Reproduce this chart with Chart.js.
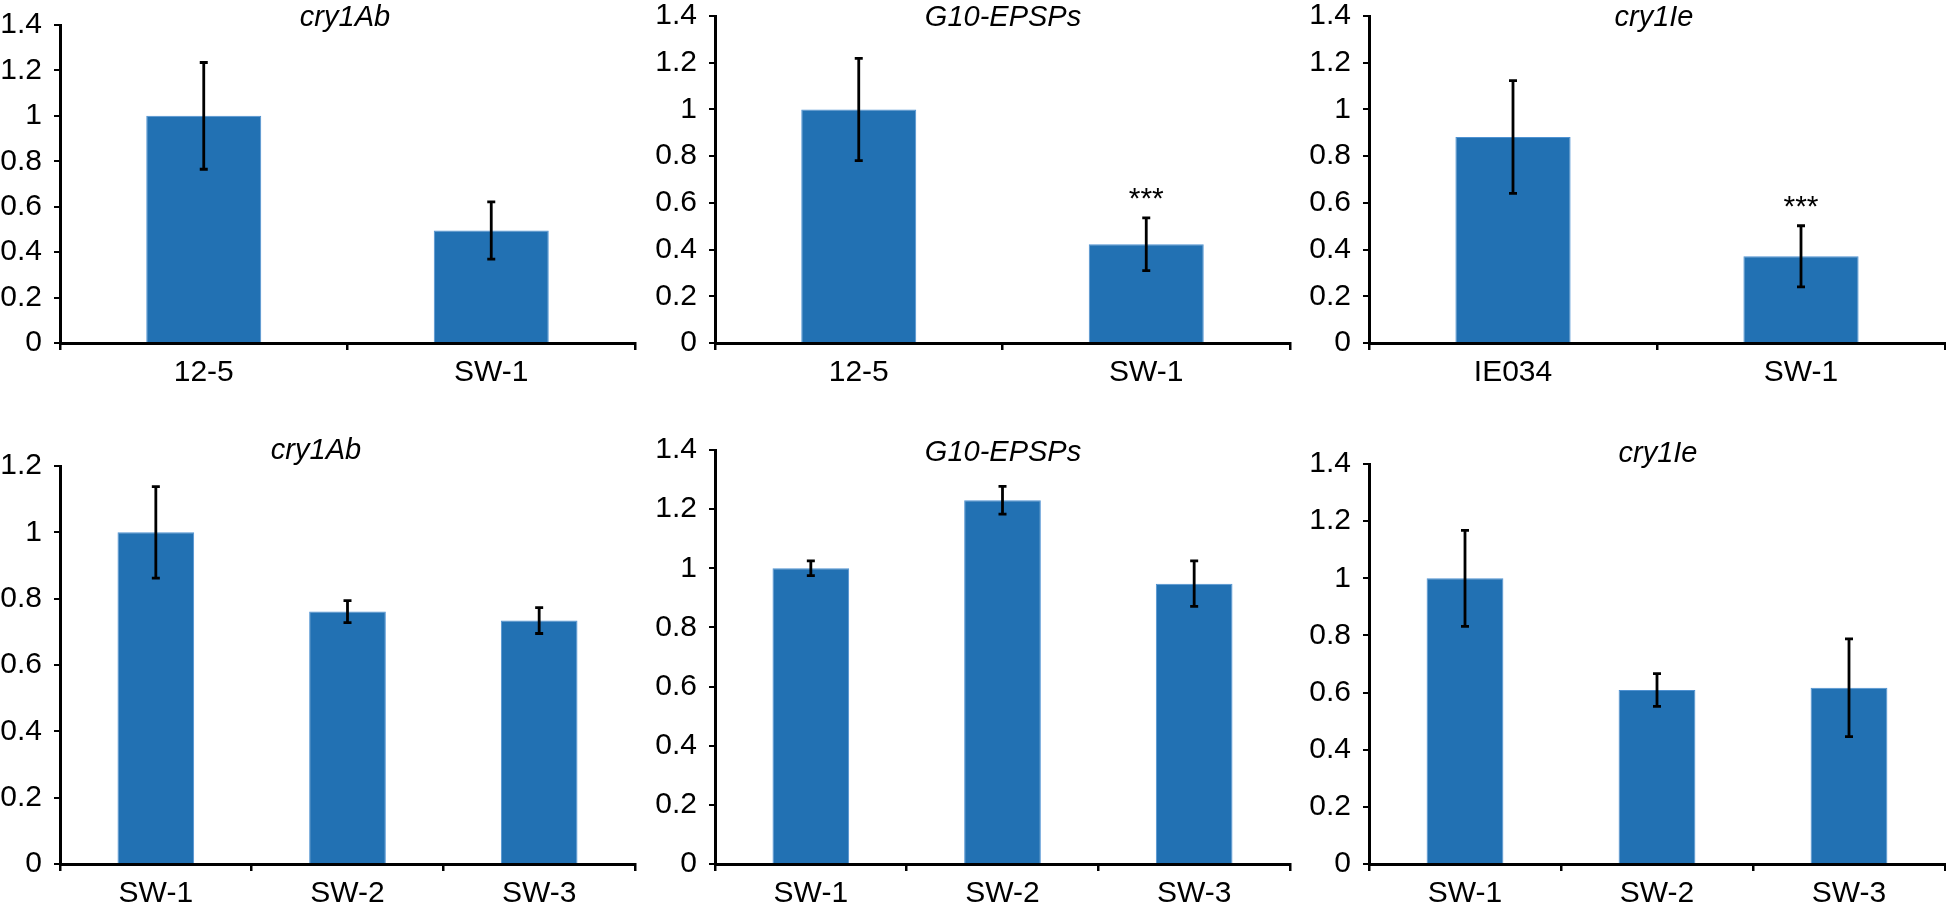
<!DOCTYPE html>
<html><head><meta charset="utf-8">
<script src="https://cdn.jsdelivr.net/npm/chart.js@4.4.0/dist/chart.umd.min.js"></script>
<style>
html,body{margin:0;padding:0;background:#fff;width:1946px;height:907px;overflow:hidden;position:relative}
canvas{position:absolute}
</style></head><body>
<script>
// ---- data ----
const titles = ['cry1Ab', 'G10-EPSPs', 'cry1Ie', 'cry1Ab', 'G10-EPSPs', 'cry1Ie'];
const catsTopA = ['12-5', 'SW-1'];
const catsTopC = ['IE034', 'SW-1'];
const catsBottom = ['SW-1', 'SW-2', 'SW-3'];

const topCry1AbValues = [1.0, 0.495];
const topCry1AbErrors = [0.235, 0.126];
const topG10Values = [1.0, 0.423];
const topG10Errors = [0.219, 0.113];
const topCry1IeValues = [0.882, 0.371];
const topCry1IeErrors = [0.241, 0.131];

const botCry1AbValues = [1.0, 0.761, 0.734];
const botCry1AbErrors = [0.138, 0.033, 0.039];
const botG10Values = [1.0, 1.230, 0.948];
const botG10Errors = [0.025, 0.047, 0.077];
const botCry1IeValues = [1.0, 0.609, 0.617];
const botCry1IeErrors = [0.168, 0.057, 0.171];

const sigNone2 = ['', ''];
const sigTopG10 = ['', '***'];
const sigTopCry1Ie = ['', '***'];
const sigNone3 = ['', '', ''];

const yTicks14 = ['0', '0.2', '0.4', '0.6', '0.8', '1', '1.2', '1.4'];
const yTicks12 = ['0', '0.2', '0.4', '0.6', '0.8', '1', '1.2'];
const yMax = [1.4, 1.4, 1.4, 1.2, 1.4, 1.4];

// ---- layout (page pixels) ----
const boxes = [
  {L: 60,   R: 635,  T: 25,  B: 343, top: -20, tx: 345,  ty: 26},
  {L: 715,  R: 1290, T: 16,  B: 343, top: -20, tx: 1003, ty: 26},
  {L: 1369, R: 1945, T: 16,  B: 343, top: -20, tx: 1654, ty: 26},
  {L: 60,   R: 635,  T: 466, B: 864, top: 420, tx: 316,  ty: 459},
  {L: 715,  R: 1290, T: 448, B: 864, top: 420, tx: 1003, ty: 461},
  {L: 1369, R: 1945, T: 464, B: 864, top: 420, tx: 1658, ty: 462}
];

const panels = [
  {cats: catsTopA, vals: topCry1AbValues, errs: topCry1AbErrors, sig: sigNone2, ticks: yTicks14},
  {cats: catsTopA, vals: topG10Values, errs: topG10Errors, sig: sigTopG10, ticks: yTicks14},
  {cats: catsTopC, vals: topCry1IeValues, errs: topCry1IeErrors, sig: sigTopCry1Ie, ticks: yTicks14},
  {cats: catsBottom, vals: botCry1AbValues, errs: botCry1AbErrors, sig: sigNone3, ticks: yTicks12},
  {cats: catsBottom, vals: botG10Values, errs: botG10Errors, sig: sigNone3, ticks: yTicks14},
  {cats: catsBottom, vals: botCry1IeValues, errs: botCry1IeErrors, sig: sigNone3, ticks: yTicks14}
];

const FONT = "'Liberation Sans', Arial, Helvetica, sans-serif";
Chart.defaults.font.family = FONT;
Chart.defaults.color = '#000';

const errorBarPlugin = {
  id: 'errbars',
  afterDatasetsDraw(chart) {
    const ctx = chart.ctx;
    const meta = chart.getDatasetMeta(0);
    const ys = chart.scales.y;
    const ds = chart.data.datasets[0];
    ctx.save();
    ctx.strokeStyle = '#000';
    ctx.lineWidth = 2.8;
    meta.data.forEach((bar, i) => {
      const v = ds.data[i], e = ds.errors[i];
      const yt = ys.getPixelForValue(v + e), yb = ys.getPixelForValue(v - e);
      const x = bar.x;
      ctx.beginPath();
      ctx.moveTo(x, yt); ctx.lineTo(x, yb);
      ctx.moveTo(x - 4, yt); ctx.lineTo(x + 4, yt);
      ctx.moveTo(x - 4, yb); ctx.lineTo(x + 4, yb);
      ctx.stroke();
      if (ds.sig && ds.sig[i]) {
        ctx.fillStyle = '#000';
        ctx.font = '30px ' + FONT;
        ctx.textAlign = 'center';
        ctx.textBaseline = 'alphabetic';
        ctx.fillText(ds.sig[i], x, yt - 10);
      }
    });
    ctx.restore();
  }
};

const panelTitlePlugin = {
  id: 'panelTitle',
  afterDraw(chart, args, opts) {
    const ctx = chart.ctx;
    ctx.save();
    ctx.fillStyle = '#000';
    ctx.font = 'italic 29px ' + FONT;
    ctx.textAlign = 'center';
    ctx.textBaseline = 'alphabetic';
    ctx.fillText(opts.text, opts.x, opts.y);
    ctx.restore();
  }
};

panels.forEach((p, k) => {
  const b = boxes[k];
  const cv = document.createElement('canvas');
  const left = b.L - 60;
  const width = (b.R - b.L) + 60 + 6;
  const height = (b.B - b.top) + 50;
  cv.width = width; cv.height = height;
  cv.style.left = left + 'px'; cv.style.top = b.top + 'px';
  cv.style.width = width + 'px'; cv.style.height = height + 'px';
  document.body.appendChild(cv);
  new Chart(cv, {
    type: 'bar',
    data: {
      labels: p.cats,
      datasets: [{
        data: p.vals,
        errors: p.errs,
        sig: p.sig,
        backgroundColor: '#2271b3',
        borderColor: '#4f92d2',
        borderWidth: 1,
        barPercentage: 0.4,
        categoryPercentage: 1.0
      }]
    },
    options: {
      responsive: false,
      devicePixelRatio: 1,
      animation: false,
      layout: {padding: {top: b.T - b.top, right: 6, left: 0, bottom: 0}},
      plugins: {
        legend: {display: false},
        tooltip: {enabled: false},
        panelTitle: {text: titles[k], x: b.tx - left, y: b.ty - b.top}
      },
      scales: {
        x: {
          type: 'category',
          offset: true,
          grid: {display: true, offset: true, drawOnChartArea: false, drawTicks: true, tickLength: 7, color: '#000', lineWidth: 2.5},
          border: {display: true, color: '#000', width: 3},
          ticks: {font: {size: 30}, color: '#000', padding: 5, maxRotation: 0, autoSkip: false},
          afterFit(s) { s.height = 50; }
        },
        y: {
          min: 0, max: yMax[k],
          ticks: {stepSize: 0.2, font: {size: 30}, color: '#000', padding: 12,
                  callback: (v, i) => p.ticks[i]},
          grid: {display: true, drawOnChartArea: false, drawTicks: true, tickLength: 6, color: '#000', lineWidth: 2},
          border: {display: true, color: '#000', width: 3},
          afterFit(s) { s.width = 60; }
        }
      }
    },
    plugins: [errorBarPlugin, panelTitlePlugin]
  });
});
</script>
</body></html>
